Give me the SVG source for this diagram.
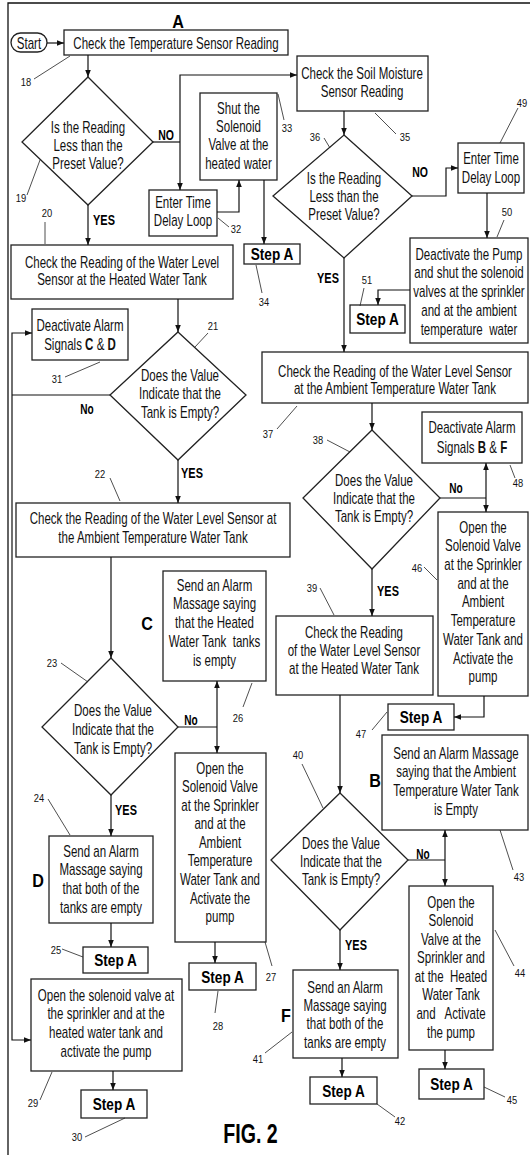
<svg xmlns="http://www.w3.org/2000/svg" width="530" height="1155" viewBox="0 0 530 1155">
<defs>
<marker id="ah" viewBox="0 0 10 10" refX="10" refY="5" markerWidth="7" markerHeight="7" markerUnits="userSpaceOnUse" orient="auto"><path d="M0,1 L10,5 L0,9 z" fill="#111"/></marker>
<style>
.bx{fill:#fff;stroke:#222;stroke-width:1.3}
.t{font-family:'Liberation Sans',Arial,sans-serif;font-size:16px;fill:#111;text-anchor:middle}
.s{font-family:'Liberation Sans',Arial,sans-serif;font-size:17px;font-weight:bold;fill:#000;text-anchor:middle}
.y{font-family:'Liberation Sans',Arial,sans-serif;font-size:14px;font-weight:bold;fill:#000;text-anchor:middle}
.big{font-family:'Liberation Sans',Arial,sans-serif;font-size:19px;font-weight:bold;fill:#000;text-anchor:middle}
.n{font-family:'Liberation Sans',Arial,sans-serif;font-size:11px;fill:#111;text-anchor:middle}
.fig{font-family:'Liberation Sans',Arial,sans-serif;font-size:28px;font-weight:bold;fill:#000;text-anchor:middle}
.c{fill:none;stroke:#111;stroke-width:1.2}
.ld{fill:none;stroke:#222;stroke-width:0.8}
.fr{fill:none;stroke:#111;stroke-width:1.3}
</style>
</defs>
<path class="fr" d="M8,1155 L8,3 L530,3"/>
<g id="titleA"><text class="big" transform="translate(178,28) scale(.85,1)">A</text></g>
<g id="fig"><text class="fig" transform="translate(250.5,1143) scale(.7,1)">FIG. 2</text></g>

<g id="start"><rect class="bx" x="11" y="33" width="36" height="19" rx="9.5"/><text class="t" transform="translate(29,48.5) scale(.72,1)">Start</text></g>

<g id="n18"><rect class="bx" x="64" y="30" width="224" height="25"/><text class="t" transform="translate(176,48.5) scale(.72,1)">Check the Temperature Sensor Reading</text>
<path class="ld" d="M34,79 L70,56"/><text class="n" transform="translate(26,86) scale(.85,1)">18</text></g>

<g id="n19"><polygon class="bx" points="88,77 153,142 88,205 22,142"/><text class="t" transform="translate(88,132.5) scale(.72,1)"><tspan x="0">Is the Reading</tspan><tspan x="0" dy="18.5">Less than the</tspan><tspan x="0" dy="18.5">Preset Value?</tspan></text>
<path class="ld" d="M40,160 L27,195"/><text class="n" transform="translate(21,202) scale(.85,1)">19</text></g>

<g id="n32"><rect class="bx" x="149" y="190" width="68" height="46"/><text class="t" transform="translate(183,207.5) scale(.72,1)"><tspan x="0">Enter Time</tspan><tspan x="0" dy="18.5">Delay Loop</tspan></text>
<path class="ld" d="M218,218 L229,227"/><text class="n" transform="translate(236,233) scale(.85,1)">32</text></g>

<g id="n33"><rect class="bx" x="200" y="93" width="77" height="87"/><text class="t" transform="translate(238.5,113.5) scale(.72,1)"><tspan x="0">Shut the</tspan><tspan x="0" dy="18.5">Solenoid</tspan><tspan x="0" dy="18.5">Valve at the</tspan><tspan x="0" dy="18.5">heated water</tspan></text>
<path class="ld" d="M278,94 L284,120"/><text class="n" transform="translate(287,132) scale(.85,1)">33</text></g>

<g id="n34"><rect class="bx" x="244" y="244" width="56" height="20"/><text class="s" transform="translate(272,260) scale(.8,1)">Step A</text>
<path class="ld" d="M256,265 L262,293"/><text class="n" transform="translate(264,306) scale(.85,1)">34</text></g>

<g id="n35"><rect class="bx" x="297" y="56" width="131" height="55"/><text class="t" transform="translate(362,78.5) scale(.72,1)"><tspan x="0">Check the Soil Moisture</tspan><tspan x="0" dy="18.5">Sensor Reading</tspan></text>
<path class="ld" d="M375,113 L396,134"/><text class="n" transform="translate(405,141) scale(.85,1)">35</text></g>

<g id="n36"><polygon class="bx" points="344,135 412,196 344,258 273,196"/><text class="t" transform="translate(344,183.5) scale(.72,1)"><tspan x="0">Is the Reading</tspan><tspan x="0" dy="18.5">Less than the</tspan><tspan x="0" dy="18.5">Preset Value?</tspan></text>
<path class="ld" d="M324,138 L330,148"/><text class="n" transform="translate(315,141) scale(.85,1)">36</text></g>

<g id="n49"><rect class="bx" x="458" y="143" width="66" height="50"/><text class="t" transform="translate(491,163.5) scale(.72,1)"><tspan x="0">Enter Time</tspan><tspan x="0" dy="19.5">Delay Loop</tspan></text>
<path class="ld" d="M500,143 L518,108"/><text class="n" transform="translate(522,107) scale(.85,1)">49</text></g>

<g id="n50"><rect class="bx" x="410" y="238" width="118" height="105"/><text class="t" transform="translate(469,259.5) scale(.72,1)"><tspan x="0">Deactivate the Pump</tspan><tspan x="0" dy="19">and shut the solenoid</tspan><tspan x="0" dy="19">valves at the sprinkler</tspan><tspan x="0" dy="19">and at the ambient</tspan><tspan x="0" dy="19">temperature&#160; water</tspan></text>
<path class="ld" d="M497,237 L504,220"/><text class="n" transform="translate(507,216) scale(.85,1)">50</text></g>

<g id="n51"><rect class="bx" x="350" y="305" width="55" height="28"/><text class="s" transform="translate(377.5,325) scale(.8,1)">Step A</text>
<path class="ld" d="M364,288 L360,306"/><text class="n" transform="translate(367,284) scale(.85,1)">51</text></g>

<g id="n37"><rect class="bx" x="262" y="352" width="266" height="51"/><text class="t" transform="translate(395,377) scale(.72,1)"><tspan x="0">Check the Reading of the Water Level Sensor</tspan><tspan x="0" dy="17">at the Ambient Temperature Water Tank</tspan></text>
<path class="ld" d="M277,429 L297,406"/><text class="n" transform="translate(268,438) scale(.85,1)">37</text></g>

<g id="n38"><polygon class="bx" points="372,430 440,498 372,569 303,498"/><text class="t" transform="translate(374,485.5) scale(.72,1)"><tspan x="0">Does the Value</tspan><tspan x="0" dy="18.5">Indicate that the</tspan><tspan x="0" dy="18.5">Tank is Empty?</tspan></text>
<path class="ld" d="M327,440 L350,452"/><text class="n" transform="translate(318,444) scale(.85,1)">38</text></g>

<g id="n48"><rect class="bx" x="422" y="412" width="100" height="51"/><text class="t" transform="translate(472,432.5) scale(.72,1)"><tspan x="0">Deactivate Alarm</tspan><tspan x="0" dy="20.5">Signals <tspan font-weight="bold">B</tspan> &amp; <tspan font-weight="bold">F</tspan></tspan></text>
<path class="ld" d="M510,465 L515,478"/><text class="n" transform="translate(518,487) scale(.85,1)">48</text></g>

<g id="n46"><rect class="bx" x="438" y="512" width="90" height="184"/><text class="t" transform="translate(483,532.5) scale(.72,1)"><tspan x="0">Open the</tspan><tspan x="0" dy="18.75">Solenoid Valve</tspan><tspan x="0" dy="18.75">at the Sprinkler</tspan><tspan x="0" dy="18.75">and at the</tspan><tspan x="0" dy="18.75">Ambient</tspan><tspan x="0" dy="18.75">Temperature</tspan><tspan x="0" dy="18.75">Water Tank and</tspan><tspan x="0" dy="18.75">Activate the</tspan><tspan x="0" dy="18.75">pump</tspan></text>
<path class="ld" d="M424,567 L437,580"/><text class="n" transform="translate(417,572) scale(.85,1)">46</text></g>

<g id="n47"><rect class="bx" x="388" y="704" width="66" height="26"/><text class="s" transform="translate(421,723) scale(.8,1)">Step A</text>
<path class="ld" d="M372,730 L387,712"/><text class="n" transform="translate(361,738) scale(.85,1)">47</text></g>

<g id="n39"><rect class="bx" x="276" y="616" width="157" height="79"/><text class="t" transform="translate(354,637.5) scale(.72,1)"><tspan x="0">Check the Reading</tspan><tspan x="0" dy="18.5">of the Water Level Sensor</tspan><tspan x="0" dy="18.5">at the Heated Water Tank</tspan></text>
<path class="ld" d="M320,588 L334,615"/><text class="n" transform="translate(312,592) scale(.85,1)">39</text></g>

<g id="n40"><polygon class="bx" points="340,793 408,860 340,930 271,860"/><text class="t" transform="translate(341,848.5) scale(.72,1)"><tspan x="0">Does the Value</tspan><tspan x="0" dy="18.5">Indicate that the</tspan><tspan x="0" dy="18.5">Tank is Empty?</tspan></text>
<path class="ld" d="M302,764 L323,808"/><text class="n" transform="translate(298,759) scale(.85,1)">40</text></g>

<g id="n43"><rect class="bx" x="382" y="735" width="146" height="95"/><text class="t" transform="translate(456,758.5) scale(.72,1)"><tspan x="0">Send an Alarm Massage</tspan><tspan x="0" dy="19">saying that the Ambient</tspan><tspan x="0" dy="19">Temperature Water Tank</tspan><tspan x="0" dy="19">is Empty</tspan></text>
<text class="big" transform="translate(375,787) scale(.85,1)">B</text>
<path class="ld" d="M500,830 L513,870"/><text class="n" transform="translate(519,881) scale(.85,1)">43</text></g>

<g id="n44"><rect class="bx" x="409" y="886" width="84" height="164"/><text class="t" transform="translate(451,907.5) scale(.72,1)"><tspan x="0">Open the</tspan><tspan x="0" dy="18.6">Solenoid</tspan><tspan x="0" dy="18.6">Valve at the</tspan><tspan x="0" dy="18.6">Sprinkler and</tspan><tspan x="0" dy="18.6">at the&#160; Heated</tspan><tspan x="0" dy="18.6">Water Tank</tspan><tspan x="0" dy="18.6">and&#160;&#160; Activate</tspan><tspan x="0" dy="18.6">the pump</tspan></text>
<path class="ld" d="M495,930 L514,966"/><text class="n" transform="translate(520,977) scale(.85,1)">44</text></g>

<g id="n45"><rect class="bx" x="419" y="1069" width="65" height="30"/><text class="s" transform="translate(451.5,1090) scale(.8,1)">Step A</text>
<path class="ld" d="M484,1087 L505,1097"/><text class="n" transform="translate(512,1104) scale(.85,1)">45</text></g>

<g id="n41"><rect class="bx" x="293" y="970" width="105" height="88"/><text class="t" transform="translate(345,992.5) scale(.72,1)"><tspan x="0">Send an Alarm</tspan><tspan x="0" dy="18.5">Massage saying</tspan><tspan x="0" dy="18.5">that both of the</tspan><tspan x="0" dy="18.5">tanks are empty</tspan></text>
<text class="big" transform="translate(286,1022) scale(.85,1)">F</text>
<path class="ld" d="M265,1053 L292,1032"/><text class="n" transform="translate(258,1063) scale(.85,1)">41</text></g>

<g id="n42"><rect class="bx" x="310" y="1077" width="67" height="27"/><text class="s" transform="translate(343.5,1096.5) scale(.8,1)">Step A</text>
<path class="ld" d="M377,1104 L395,1117"/><text class="n" transform="translate(400,1125) scale(.85,1)">42</text></g>

<g id="n20"><rect class="bx" x="11" y="245" width="222" height="54"/><text class="t" transform="translate(122,267.5) scale(.72,1)"><tspan x="0">Check the Reading of the Water Level</tspan><tspan x="0" dy="17.5">Sensor at the Heated Water Tank</tspan></text>
<path class="ld" d="M45,222 L45,244"/><text class="n" transform="translate(47,217) scale(.85,1)">20</text></g>

<g id="n31"><rect class="bx" x="32" y="309" width="96" height="51"/><text class="t" transform="translate(80,330.5) scale(.72,1)"><tspan x="0">Deactivate Alarm</tspan><tspan x="0" dy="20">Signals <tspan font-weight="bold">C</tspan> &amp; <tspan font-weight="bold">D</tspan></tspan></text>
<path class="ld" d="M65,377 L100,362"/><text class="n" transform="translate(57,383) scale(.85,1)">31</text></g>

<g id="n21"><polygon class="bx" points="178,332 246,395 178,460 110,395"/><text class="t" transform="translate(180,380.5) scale(.72,1)"><tspan x="0">Does the Value</tspan><tspan x="0" dy="19">Indicate that the</tspan><tspan x="0" dy="19">Tank is Empty?</tspan></text>
<path class="ld" d="M208,333 L195,347"/><text class="n" transform="translate(213,330) scale(.85,1)">21</text></g>

<g id="n22"><rect class="bx" x="16" y="503" width="274" height="54"/><text class="t" transform="translate(153,523.5) scale(.72,1)"><tspan x="0">Check the Reading of the Water Level Sensor at</tspan><tspan x="0" dy="19.5">the Ambient Temperature Water Tank</tspan></text>
<path class="ld" d="M110,478 L120,501"/><text class="n" transform="translate(100,478) scale(.85,1)">22</text></g>

<g id="n23"><polygon class="bx" points="111,658 178,727 111,795 42,727"/><text class="t" transform="translate(113,715.5) scale(.72,1)"><tspan x="0">Does the Value</tspan><tspan x="0" dy="19.5">Indicate that the</tspan><tspan x="0" dy="19.5">Tank is Empty?</tspan></text>
<path class="ld" d="M61,663 L88,682"/><text class="n" transform="translate(52,667) scale(.85,1)">23</text></g>

<g id="n26"><rect class="bx" x="163" y="571" width="103" height="110"/><text class="t" transform="translate(214.5,590.5) scale(.72,1)"><tspan x="0">Send an Alarm</tspan><tspan x="0" dy="19">Massage saying</tspan><tspan x="0" dy="19">that the Heated</tspan><tspan x="0" dy="19">Water Tank&#160; tanks</tspan><tspan x="0" dy="19">is empty</tspan></text>
<text class="big" transform="translate(147,630) scale(.85,1)">C</text>
<path class="ld" d="M252,683 L243,707"/><text class="n" transform="translate(238,722) scale(.85,1)">26</text></g>

<g id="n27"><rect class="bx" x="175" y="753" width="91" height="189"/><text class="t" transform="translate(220,773.5) scale(.72,1)"><tspan x="0">Open the</tspan><tspan x="0" dy="18.6">Solenoid Valve</tspan><tspan x="0" dy="18.6">at the Sprinkler</tspan><tspan x="0" dy="18.6">and at the</tspan><tspan x="0" dy="18.6">Ambient</tspan><tspan x="0" dy="18.6">Temperature</tspan><tspan x="0" dy="18.6">Water Tank and</tspan><tspan x="0" dy="18.6">Activate the</tspan><tspan x="0" dy="18.6">pump</tspan></text>
<path class="ld" d="M265,942 L272,966"/><text class="n" transform="translate(271,981) scale(.85,1)">27</text></g>

<g id="n28"><rect class="bx" x="189" y="963" width="67" height="27"/><text class="s" transform="translate(222.5,982.5) scale(.8,1)">Step A</text>
<path class="ld" d="M218,991 L215,1013"/><text class="n" transform="translate(218,1030) scale(.85,1)">28</text></g>

<g id="n24"><rect class="bx" x="49" y="836" width="104" height="87"/><text class="t" transform="translate(101,856.5) scale(.72,1)"><tspan x="0">Send an Alarm</tspan><tspan x="0" dy="18.7">Massage saying</tspan><tspan x="0" dy="18.7">that both of the</tspan><tspan x="0" dy="18.7">tanks are empty</tspan></text>
<text class="big" transform="translate(38,887) scale(.85,1)">D</text>
<path class="ld" d="M48,799 L70,835"/><text class="n" transform="translate(39,802) scale(.85,1)">24</text></g>

<g id="n25"><rect class="bx" x="83" y="947" width="65" height="26"/><text class="s" transform="translate(115.5,966) scale(.8,1)">Step A</text>
<path class="ld" d="M62,949 L83,957"/><text class="n" transform="translate(56,954) scale(.85,1)">25</text></g>

<g id="n29"><rect class="bx" x="31" y="979" width="151" height="92"/><text class="t" transform="translate(106,1000.5) scale(.72,1)"><tspan x="0">Open the solenoid valve at</tspan><tspan x="0" dy="18.7">the sprinkler and at the</tspan><tspan x="0" dy="18.7">heated water tank and</tspan><tspan x="0" dy="18.7">activate the pump</tspan></text>
<path class="ld" d="M52,1072 L40,1100"/><text class="n" transform="translate(33,1107) scale(.85,1)">29</text></g>

<g id="n30"><rect class="bx" x="81" y="1090" width="66" height="28"/><text class="s" transform="translate(114,1110) scale(.8,1)">Step A</text>
<path class="ld" d="M125,1118 L85,1137"/><text class="n" transform="translate(77,1141) scale(.85,1)">30</text></g>

<g id="connectors">
<path class="c" marker-end="url(#ah)" d="M47,43 L64,43"/>
<path class="c" marker-end="url(#ah)" d="M88,55 L88,77"/>
<path class="c" d="M153,142 L180,142"/>
<path class="c" marker-end="url(#ah)" d="M180,142 L180,75 L297,75"/>
<path class="c" marker-end="url(#ah)" d="M180,142 L180,190"/>
<path class="c" marker-end="url(#ah)" d="M217,212 L239,212 L239,180"/>
<path class="c" marker-end="url(#ah)" d="M264,180 L264,244"/>
<path class="c" marker-end="url(#ah)" d="M344,111 L344,135"/>
<path class="c" marker-end="url(#ah)" d="M412,196 L446,196 L446,168 L458,168"/>
<path class="c" marker-end="url(#ah)" d="M487,193 L487,238"/>
<path class="c" marker-end="url(#ah)" d="M410,290 L378,290 L378,305"/>
<path class="c" marker-end="url(#ah)" d="M344,258 L344,352"/>
<path class="c" marker-end="url(#ah)" d="M372,403 L372,430"/>
<path class="c" d="M440,498 L486,498"/>
<path class="c" marker-end="url(#ah)" d="M486,498 L486,463"/>
<path class="c" marker-end="url(#ah)" d="M486,498 L486,512"/>
<path class="c" marker-end="url(#ah)" d="M484,696 L484,717 L454,717"/>
<path class="c" marker-end="url(#ah)" d="M372,569 L372,616"/>
<path class="c" marker-end="url(#ah)" d="M340,695 L340,793"/>
<path class="c" d="M408,860 L445,860"/>
<path class="c" marker-end="url(#ah)" d="M445,860 L445,830"/>
<path class="c" marker-end="url(#ah)" d="M445,860 L445,886"/>
<path class="c" marker-end="url(#ah)" d="M445,1050 L445,1069"/>
<path class="c" marker-end="url(#ah)" d="M340,930 L340,970"/>
<path class="c" marker-end="url(#ah)" d="M342,1058 L342,1077"/>
<path class="c" marker-end="url(#ah)" d="M88,205 L88,245"/>
<path class="c" marker-end="url(#ah)" d="M178,299 L178,332"/>
<path class="c" d="M110,395 L12,395"/>
<path class="c" marker-end="url(#ah)" d="M12,395 L12,333 L32,333"/>
<path class="c" marker-end="url(#ah)" d="M12,395 L12,1040 L31,1040"/>
<path class="c" marker-end="url(#ah)" d="M178,460 L178,503"/>
<path class="c" marker-end="url(#ah)" d="M111,557 L111,658"/>
<path class="c" d="M178,727 L217,727"/>
<path class="c" marker-end="url(#ah)" d="M217,727 L217,681"/>
<path class="c" marker-end="url(#ah)" d="M217,727 L217,753"/>
<path class="c" marker-end="url(#ah)" d="M215,942 L215,963"/>
<path class="c" marker-end="url(#ah)" d="M111,795 L111,836"/>
<path class="c" marker-end="url(#ah)" d="M111,923 L111,947"/>
<path class="c" marker-end="url(#ah)" d="M113,1071 L113,1090"/>
</g>
<g id="edge-labels">
<text class="y" transform="translate(166,140) scale(.75,1)">NO</text>
<text class="y" transform="translate(104,225) scale(.78,1)">YES</text>
<text class="y" transform="translate(87,414) scale(.72,1)">No</text>
<text class="y" transform="translate(192,478) scale(.78,1)">YES</text>
<text class="y" transform="translate(191,725) scale(.72,1)">No</text>
<text class="y" transform="translate(126,815) scale(.78,1)">YES</text>
<text class="y" transform="translate(420,177) scale(.75,1)">NO</text>
<text class="y" transform="translate(328,283) scale(.78,1)">YES</text>
<text class="y" transform="translate(456,493) scale(.72,1)">No</text>
<text class="y" transform="translate(388,596) scale(.78,1)">YES</text>
<text class="y" transform="translate(423,859) scale(.72,1)">No</text>
<text class="y" transform="translate(356,950) scale(.78,1)">YES</text>
</g>
</svg>
